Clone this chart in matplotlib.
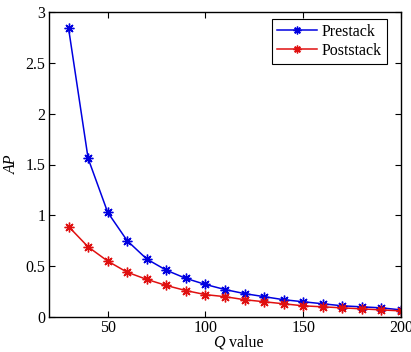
import matplotlib
matplotlib.use("Agg")
import matplotlib.pyplot as plt

q_values = [30, 40, 50, 60, 70, 80, 90, 100, 110, 120, 130, 140, 150, 160, 170, 180, 190, 200]
prestack = [2.84, 1.56, 1.03, 0.75, 0.57, 0.46, 0.38, 0.32, 0.27, 0.23, 0.20, 0.17, 0.15, 0.13, 0.11, 0.10, 0.09, 0.07]
poststack = [0.89, 0.69, 0.55, 0.44, 0.37, 0.31, 0.26, 0.22, 0.20, 0.17, 0.15, 0.13, 0.11, 0.10, 0.09, 0.08, 0.07, 0.06]
x_ticks = [50, 100, 150, 200]
y_ticks = [0, 0.5, 1, 1.5, 2, 2.5, 3]
y_tick_labels = ["0", "0.5", "1", "1.5", "2", "2.5", "3"]

plt.rcParams['font.family'] = ['Liberation Serif', 'DejaVu Serif']

fig = plt.figure(figsize=(4.11, 3.52), dpi=100)
ax = fig.add_axes([49/411, 35/352, 352/411, 305/352])

star = (8, 2, 0)
ax.plot(q_values, prestack, color='#0000e0', marker=star, markersize=7, markeredgewidth=1.0,
        linewidth=1.1, label='Prestack')
ax.plot(q_values, poststack, color='#e01010', marker=star, markersize=7, markeredgewidth=1.0,
        linewidth=1.1, label='Poststack')

ax.set_xlim(20, 200)
ax.set_ylim(0, 3)
ax.set_xticks(x_ticks)
ax.set_yticks(y_ticks)
ax.set_yticklabels(y_tick_labels)
ax.tick_params(direction='in', length=4, labelsize=11.5, top=True, right=True, pad=2.5)
for s in ax.spines.values():
    s.set_linewidth(1.0)

# x label: italic Q followed by upright "value"
xc = 0.5
ax.text(xc, -0.097, 'Q', transform=ax.transAxes, fontsize=11.5, style='italic',
        ha='right', va='baseline')
ax.text(xc + 0.012, -0.097, 'value', transform=ax.transAxes, fontsize=11.5,
        ha='left', va='baseline')
ax.set_ylabel('AP', fontsize=11.5, style='italic', labelpad=4)

leg = ax.legend(loc='upper right', bbox_to_anchor=(0.960, 0.977), fontsize=11.5,
                fancybox=False, edgecolor='black', framealpha=1, handlelength=2.5,
                handletextpad=0.3, borderpad=0.3, labelspacing=0.2, borderaxespad=0.0,
                markerscale=0.8)
leg.get_frame().set_linewidth(0.8)

fig.savefig('out.png', dpi=100)
